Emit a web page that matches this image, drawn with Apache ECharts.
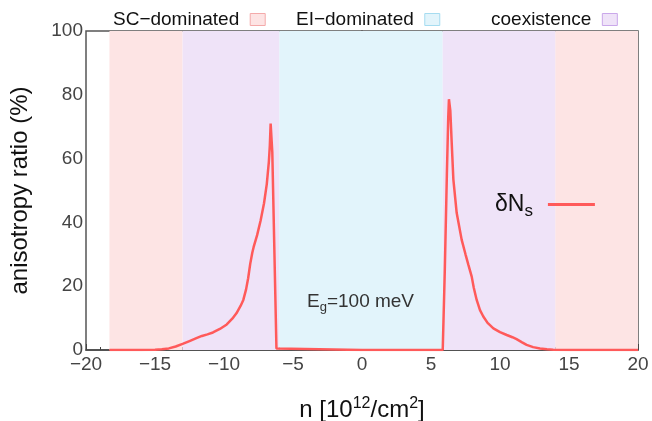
<!DOCTYPE html>
<html>
<head>
<meta charset="utf-8">
<script src="https://cdn.jsdelivr.net/npm/echarts@6/dist/echarts.min.js"></script>
<style>
  html, body { margin: 0; padding: 0; background: #fff; }
  #chart { width: 652px; height: 421px; }
</style>
</head>
<body>
<div id="chart"></div>
<script>
// Carrier density n (10^12 / cm^2) and the anisotropy ratio of δN_s (%)
const density = [
  -18.3, -16, -15, -14.5, -14, -13.5, -13, -12.5, -12, -11.6, -11.2, -10.8,
  -10.3, -9.8, -9.4, -9.1, -8.8, -8.6, -8.4, -8.25, -8.1, -7.95, -7.85, -7.6,
  -7.35, -7.1, -6.9, -6.75, -6.68, -6.62, -6.5, -6.2, -6.15,
  0, 5.85,
  6.0, 6.15, 6.25, 6.3, 6.4, 6.5, 6.62, 6.86, 7.22, 7.5, 7.71, 7.95, 8.1,
  8.31, 8.55, 8.79, 9.1, 9.52, 10, 10.49, 10.9, 11.2, 11.6, 11.93, 12.4,
  12.9, 13.4, 13.86, 15, 20
];
const anisotropy = [
  0, 0, 0.05, 0.2, 0.5, 1.1, 1.9, 2.8, 3.7, 4.4, 4.9, 5.5,
  6.6, 8.0, 9.8, 11.5, 13.8, 15.7, 19, 22.5, 27, 30.5, 32.3, 36,
  40.5, 46, 52, 59, 64, 71, 62, 0.5, 0,
  0, 0,
  25, 55, 73, 78.6, 75, 65, 53.5, 43, 34.6, 30, 26.7, 23, 19.5,
  15.7, 12.5, 10.5, 8.5, 6.8, 5.6, 4.7, 4.0, 3.4, 2.4, 1.6, 0.9,
  0.5, 0.2, 0.1, 0, 0
];

// Phase regions along n
const regionNames = ['SC\u2212dominated', 'EI\u2212dominated', 'coexistence'];
const scRanges = [[-18.3, -13], [14, 20]];
const eiRanges = [[-6, 5.85]];
const coRanges = [[-13, -6], [5.85, 14]];

const xTicks = { min: -20, max: 20, step: 5 };
const yTicks = { min: 0, max: 100, step: 20 };

const fills = ['#fde4e4', '#e2f4fb', '#efe3f8'];
const edges = ['#f4aaaa', '#a6dcf0', '#caa8ea'];
const legendLeft = [108, 291, 486];

function regionSeries(name, ranges, idx) {
  return {
    name: name,
    type: 'line',
    data: [],
    silent: true,
    itemStyle: { color: fills[idx], borderColor: edges[idx], borderWidth: 1 },
    markArea: {
      silent: true,
      itemStyle: { color: fills[idx] },
      data: ranges.map(r => [{ xAxis: r[0] }, { xAxis: r[1] }])
    }
  };
}

const chart = echarts.init(document.getElementById('chart'), null, { renderer: 'canvas' });
const font = '"Liberation Sans", Arial, Helvetica, sans-serif';
const axisColor = '#444';

const regionLegends = regionNames.map((n, i) => ({
  data: [{ name: n, icon: 'rect', itemStyle: { color: fills[i], borderColor: edges[i], borderWidth: 1 } }],
  left: legendLeft[i], top: 5,
  align: 'right',
  itemWidth: 15, itemHeight: 12,
  textStyle: { fontSize: 19, color: '#111', fontFamily: font, padding: [0, 6, 0, 0] },
  selectedMode: false
}));

chart.setOption({
  animation: false,
  textStyle: { fontFamily: font },
  grid: {
    left: 86, right: 14, top: 31, bottom: 71,
    containLabel: false, outerBoundsMode: 'none',
    show: true, borderColor: '#555', borderWidth: 1.5, backgroundColor: 'transparent'
  },
  legend: regionLegends.concat([
    {
      data: ['dNs'],
      left: 490, top: 188,
      align: 'right',
      itemWidth: 47, itemHeight: 14, icon: 'path://M0,6h47v3h-47z',
      formatter: () => '{d|\u03b4N}{s|s}',
      textStyle: {
        color: '#111', fontFamily: font, padding: [0, 10, 0, 0],
        rich: {
          d: { fontSize: 23, fontFamily: font, color: '#111' },
          s: { fontSize: 17, fontFamily: font, color: '#111', padding: [14, 0, 0, 0] }
        }
      },
      selectedMode: false
    }
  ]),
  xAxis: {
    type: 'value',
    min: xTicks.min, max: xTicks.max, interval: xTicks.step,
    name: 'n [10{sup|12}/cm{sup|2}]',
    nameLocation: 'middle',
    nameGap: 46,
    nameTextStyle: {
      fontSize: 24, color: '#111', fontFamily: font,
      rich: { sup: { fontSize: 16, color: '#111', fontFamily: font, padding: [0, 0, 13, 0] } }
    },
    axisLine: { onZero: false, lineStyle: { color: axisColor, width: 1.5 } },
    axisTick: { inside: true, length: 6, lineStyle: { color: axisColor } },
    minorTick: { show: true, splitNumber: 5, length: 3, lineStyle: { color: axisColor } },
    axisLabel: { fontSize: 19, color: axisColor, margin: 5, formatter: v => (v < 0 ? '\u2212' + Math.abs(v) : String(v)) },
    splitLine: { show: false }
  },
  yAxis: {
    type: 'value',
    min: yTicks.min, max: yTicks.max, interval: yTicks.step,
    name: 'anisotropy ratio (%)',
    nameLocation: 'middle',
    nameGap: 54,
    nameTextStyle: { fontSize: 24, color: '#111', fontFamily: font },
    axisLine: { lineStyle: { color: axisColor, width: 1.5 } },
    axisTick: { inside: true, length: 6, lineStyle: { color: axisColor } },
    minorTick: { show: true, splitNumber: 2, length: 3, lineStyle: { color: axisColor } },
    axisLabel: { fontSize: 19, color: axisColor, margin: 3 },
    splitLine: { show: false }
  },
  graphic: [
    {
      type: 'text',
      left: 307, top: 292,
      style: {
        text: '{e|E}{g|g}{e|=100 meV}',
        fontFamily: font,
        rich: {
          e: { fontSize: 19, fill: '#333', fontFamily: font },
          g: { fontSize: 13, fill: '#333', fontFamily: font, padding: [11, 0, 0, 0] }
        }
      },
      z: 10
    }
  ],
  series: [
    regionSeries(regionNames[0], scRanges, 0),
    regionSeries(regionNames[1], eiRanges, 1),
    regionSeries(regionNames[2], coRanges, 2),
    {
      name: 'dNs',
      type: 'line',
      data: density.map((n, i) => [n, anisotropy[i]]),
      showSymbol: false,
      lineStyle: { color: '#ff5a5a', width: 2.5 },
      itemStyle: { color: '#ff5a5a' },
      z: 5
    }
  ]
});
</script>
</body>
</html>
